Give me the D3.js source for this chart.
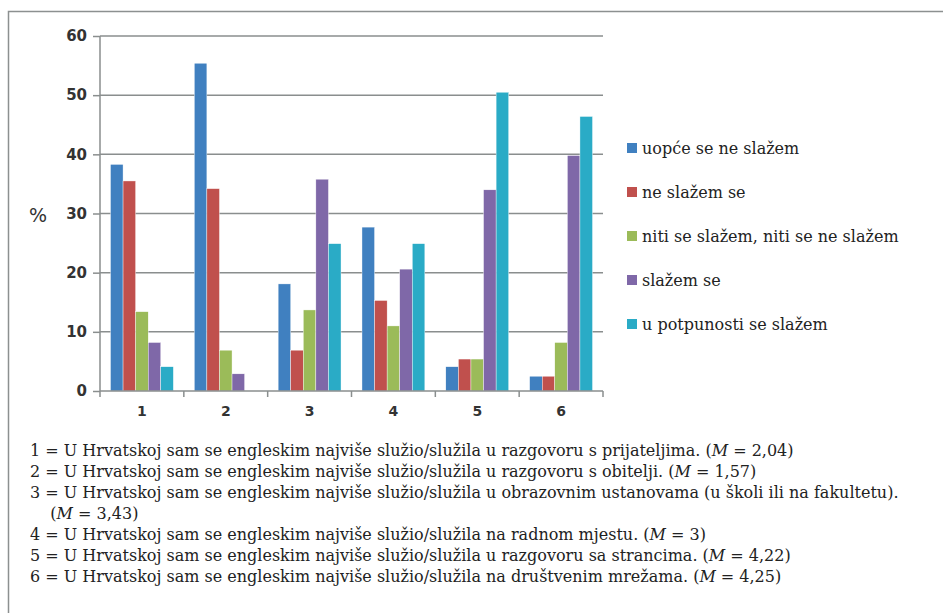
<!DOCTYPE html>
<html>
<head>
<meta charset="utf-8">
<script src="https://cdn.jsdelivr.net/npm/d3@7"></script>
<style>
body { margin: 0; background: #fff; }
svg { display: block; }
</style>
</head>
<body>
<div id="chart"></div>
<script>
// data
var categories = ["1", "2", "3", "4", "5", "6"];
var seriesNames = ["uopće se ne slažem", "ne slažem se", "niti se slažem, niti se ne slažem", "slažem se", "u potpunosti se slažem"];
var uopce   = [38.3, 55.4, 18.1, 27.7, 4.1, 2.5];
var ne      = [35.5, 34.2, 6.9, 15.3, 5.4, 2.5];
var niti    = [13.4, 6.9, 13.7, 11.0, 5.4, 8.2];
var slazem  = [8.2, 2.9, 35.8, 20.6, 34.0, 39.8];
var potpuno = [4.1, 0, 24.9, 24.9, 50.5, 46.4];
var yTicks = [0, 10, 20, 30, 40, 50, 60];
var notes = [
  ["1 = U Hrvatskoj sam se engleskim najviše služio/služila u razgovoru s prijateljima. (", "M", " = 2,04)"],
  ["2 = U Hrvatskoj sam se engleskim najviše služio/služila u razgovoru s obitelji. (", "M", " = 1,57)"],
  ["3 = U Hrvatskoj sam se engleskim najviše služio/služila u obrazovnim ustanovama (u školi ili na fakultetu).", "", ""],
  ["    (", "M", " = 3,43)"],
  ["4 = U Hrvatskoj sam se engleskim najviše služio/služila na radnom mjestu. (", "M", " = 3)"],
  ["5 = U Hrvatskoj sam se engleskim najviše služio/služila u razgovoru sa strancima. (", "M", " = 4,22)"],
  ["6 = U Hrvatskoj sam se engleskim najviše služio/služila na društvenim mrežama. (", "M", " = 4,25)"]
];
var colors = ["#4080c0", "#c0504d", "#9bbb59", "#7f68a8", "#2aabc6"];

var allSeries = [uopce, ne, niti, slazem, potpuno];
var width = 943, height = 613;

var svg = d3.select("#chart").append("svg")
  .attr("width", width).attr("height", height);

// outer frame (left + top)
svg.append("path")
  .attr("d", "M8.5," + height + "V11.5H" + width)
  .attr("fill", "none").attr("stroke", "#8c9090").attr("stroke-width", 1.5);

var pLeft = 100, pRight = 603, pTop = 36, pBottom = 391;

var x = d3.scaleBand().domain(categories).range([pLeft, pRight]).paddingInner(0.25).paddingOuter(0.125);
var xOuter = d3.scaleBand().domain(categories).range([pLeft, pRight]);
var xs = d3.scaleBand().domain(d3.range(5)).range([0, x.bandwidth()]);
var y = d3.scaleLinear().domain([0, 60]).range([pBottom, pTop]);

// gridlines
svg.append("g").selectAll("line").data(yTicks.slice(1)).enter().append("line")
  .attr("x1", pLeft).attr("x2", pRight)
  .attr("y1", d => y(d)).attr("y2", d => y(d))
  .attr("stroke", "#8a8e8e").attr("stroke-width", 1.5);

// bars
var groups = svg.append("g").selectAll("g").data(categories).enter().append("g")
  .attr("transform", d => "translate(" + x(d) + ",0)");
groups.selectAll("rect")
  .data((c, ci) => allSeries.map((s, si) => ({ si: si, v: s[ci] })))
  .enter().append("rect")
  .attr("x", d => xs(d.si))
  .attr("width", xs.bandwidth())
  .attr("y", d => y(d.v))
  .attr("height", d => pBottom - y(d.v))
  .attr("fill", d => colors[d.si])
  .attr("stroke", "#fff").attr("stroke-width", 0.4)
  .style("display", d => d.v > 0 ? null : "none");

// y axis
var yAxis = d3.axisLeft(y).tickValues(yTicks).tickSize(7).tickPadding(6);
var gy = svg.append("g").attr("transform", "translate(" + pLeft + ",0)").call(yAxis);
gy.select(".domain").attr("stroke", "#8a8e8e").attr("stroke-width", 1.5).attr("d", "M0," + pTop + "V" + pBottom);
gy.selectAll(".tick line").attr("stroke", "#8a8e8e").attr("stroke-width", 1.5);
gy.selectAll(".tick text").attr("font-family", "'DejaVu Sans', sans-serif").attr("font-size", 15)
  .attr("font-weight", "bold").attr("fill", "#333");

// x axis
var xAxis = d3.axisBottom(xOuter).tickSize(0).tickPadding(15);
var gx = svg.append("g").attr("transform", "translate(0," + pBottom + ")").call(xAxis);
gx.select(".domain").attr("stroke", "#8a8e8e").attr("stroke-width", 1.5).attr("d", "M" + pLeft + ",0H" + pRight);
gx.selectAll(".tick text").attr("font-family", "'DejaVu Sans', sans-serif").attr("font-size", 14)
  .attr("font-weight", "bold").attr("fill", "#333");
svg.append("g").selectAll("line").data(categories.concat(["end"])).enter().append("line")
  .attr("x1", (d, i) => pLeft + i * xOuter.step()).attr("x2", (d, i) => pLeft + i * xOuter.step())
  .attr("y1", pBottom).attr("y2", pBottom + 6)
  .attr("stroke", "#8a8e8e").attr("stroke-width", 1.5);

// y title
svg.append("text").attr("x", 38).attr("y", 222).attr("text-anchor", "middle")
  .attr("font-family", "'DejaVu Sans', sans-serif").attr("font-size", 19).attr("fill", "#333").text("%");

// legend
var leg = svg.append("g").selectAll("g").data(seriesNames).enter().append("g")
  .attr("transform", (d, i) => "translate(627," + (150 + i * 44) + ")");
leg.append("rect").attr("x", 0).attr("y", -7).attr("width", 10).attr("height", 10)
  .attr("fill", (d, i) => colors[i]);
leg.append("text").attr("x", 15).attr("y", 4)
  .attr("font-family", "'DejaVu Serif', serif").attr("font-size", 16).attr("fill", "#222")
  .text(d => d);

// footnotes
var ft = svg.append("g").selectAll("text").data(notes).enter().append("text")
  .attr("x", 30).attr("y", (d, i) => 456 + i * 21)
  .attr("font-family", "'DejaVu Serif', serif").attr("font-size", 16).attr("fill", "#222")
  .attr("xml:space", "preserve").style("white-space", "pre");
ft.append("tspan").text(d => d[0]);
ft.append("tspan").attr("font-style", "italic").text(d => d[1]);
ft.append("tspan").text(d => d[2]);
</script>
</body>
</html>
